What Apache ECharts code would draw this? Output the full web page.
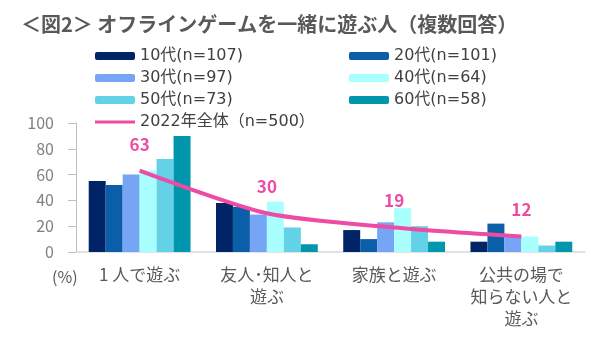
<!DOCTYPE html>
<html>
<head>
<meta charset="utf-8">
<script src="https://cdn.jsdelivr.net/npm/echarts@6/dist/echarts.min.js"></script>
<style>
  html, body { margin: 0; padding: 0; background: #fff; }
  #chart { width: 591px; height: 344px; }
</style>
</head>
<body>
<div id="chart"></div>
<script>
// 遊ぶ相手のカテゴリ
const categories = ['1 人で遊ぶ', '友人･知人と\n遊ぶ', '家族と遊ぶ', '公共の場で\n知らない人と\n遊ぶ'];

// 年代別の回答率（%）
const age10 = [55, 38, 17, 8];
const age20 = [52, 35, 10, 22];
const age30 = [60, 29, 23, 12];
const age40 = [63, 39, 34, 12];
const age50 = [72, 19, 20, 5];
const age60 = [90, 6, 8, 8];
// 全体
const total2022 = [63, 30, 19, 12];

const seriesNames = ['10代(n=107)', '20代(n=101)', '30代(n=97)', '40代(n=64)', '50代(n=73)', '60代(n=58)'];
const totalName = '2022年全体（n=500）';
const yTicks = { min: 0, max: 100, interval: 20 };

const colors = ['#002466', '#0b5ea8', '#76a5f5', '#a9fffe', '#63d1e6', '#0096ad'];
const pink = '#EE4CA4';
const font = '"Noto Sans CJK JP", "Noto Sans", sans-serif';
const legendFont = '"DejaVu Sans", "Noto Sans CJK JP", sans-serif';

// thin horizontal bar centred in the 40x8 legend box
const lineIcon = 'path://M0,0L40,0L40,0.01L0,0.01Z M0,2.4L40,2.4L40,5.6L0,5.6Z M0,7.99L40,7.99L40,8L0,8Z';

const chart = echarts.init(document.getElementById('chart'));

const barData = [age10, age20, age30, age40, age50, age60];
const barSeries = barData.map((d, i) => ({
  name: seriesNames[i],
  type: 'bar',
  data: d,
  barGap: '0%',
  barCategoryGap: '20%',
  itemStyle: { color: colors[i] },
  z: 2
}));

const legendText = { fontSize: 16, color: '#404040', fontFamily: legendFont, lineHeight: 16 };

chart.setOption({
  animation: false,
  textStyle: { fontFamily: font },
  title: {
    text: '＜図2＞ オフラインゲームを一緒に遊ぶ人（複数回答）',
    left: 16, top: 9,
    textStyle: { fontSize: 20, fontWeight: 'bold', color: '#595959', fontFamily: font }
  },
  legend: [
    {
      orient: 'vertical', left: 90, top: 43,
      itemWidth: 40, itemHeight: 8, itemGap: 6,
      textStyle: legendText,
      data: [seriesNames[0], seriesNames[2], seriesNames[4],
             { name: totalName, icon: lineIcon, itemStyle: { color: pink } }]
    },
    {
      orient: 'vertical', left: 344, top: 43,
      itemWidth: 40, itemHeight: 8, itemGap: 6,
      textStyle: legendText,
      data: [seriesNames[1], seriesNames[3], seriesNames[5]]
    }
  ],
  grid: { left: 76, right: 6, top: 123, bottom: 92, containLabel: false },
  xAxis: {
    type: 'category',
    data: categories,
    axisLine: { lineStyle: { color: '#d9d9d9', width: 1.5 } },
    axisTick: { show: false },
    axisLabel: { fontSize: 17, color: '#595959', lineHeight: 22, margin: 12, interval: 0, fontFamily: font }
  },
  yAxis: {
    type: 'value',
    min: yTicks.min, max: yTicks.max, interval: yTicks.interval,
    axisLine: { show: true, lineStyle: { color: '#bfbfbf' } },
    axisTick: { show: true, length: 8, lineStyle: { color: '#bfbfbf' } },
    splitLine: { show: false },
    axisLabel: { fontSize: 16, color: '#7f7f7f', margin: 22, fontFamily: font }
  },
  graphic: [
    {
      type: 'text', left: 52, top: 269,
      style: { text: '(%)', fontSize: 16, fill: '#595959', fontFamily: font }
    }
  ],
  series: barSeries.concat([{
    name: totalName,
    type: 'line',
    data: total2022,
    smooth: 0.25,
    symbol: 'circle',
    symbolSize: 0.1,
    showSymbol: true,
    lineStyle: { color: pink, width: 4 },
    itemStyle: { color: pink },
    z: 5,
    label: {
      show: true, position: 'top', distance: 18,
      fontSize: 17, fontWeight: 'bold', color: pink, fontFamily: font
    }
  }])
});
</script>
</body>
</html>
